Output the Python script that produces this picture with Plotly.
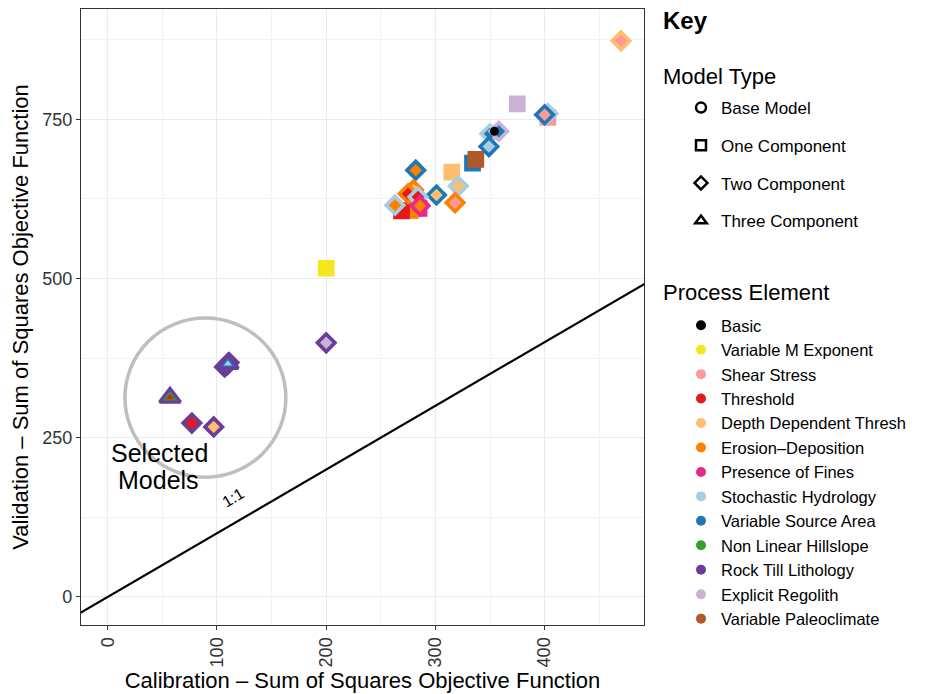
import plotly.graph_objects as go

# ---------------- data ----------------
elements = ["Basic", "Variable M Exponent", "Shear Stress", "Threshold",
            "Depth Dependent Thresh", "Erosion\u2013Deposition", "Presence of Fines",
            "Stochastic Hydrology", "Variable Source Area", "Non Linear Hillslope",
            "Rock Till Lithology", "Explicit Regolith", "Variable Paleoclimate"]
element_colors = ["#000000", "#F5E71B", "#FB9A99", "#E31A1C", "#FDBF6F", "#FF7F00",
                  "#E7298A", "#A6CEE3", "#1F78B4", "#33A02C", "#6A3D9A", "#CAB2D6", "#B15928"]
model_types = ["Base Model", "One Component", "Two Component", "Three Component"]

calib = [200, 375, 334, 337, 315, 403, 285, 277, 269,
         470, 403, 400, 350, 358, 349, 321, 282, 301, 318, 280, 275, 284, 263, 286,
         200, 77, 97, 107, 111, 109,
         57, 110,
         354]
valid = [516, 774, 681, 687, 667, 753, 610, 607, 606,
         873, 759, 757, 727, 731, 707, 645, 670, 631, 619, 639, 633, 628, 615, 614,
         399, 273, 267, 361, 368, 364,
         313, 366,
         731]
model = ["One Component"] * 9 + ["Two Component"] * 21 + ["Three Component"] * 2 + ["Base Model"]
outline = ["Variable M Exponent", "Explicit Regolith", "Variable Source Area", "Variable Paleoclimate",
           "Depth Dependent Thresh", "Shear Stress", "Presence of Fines", "Erosion\u2013Deposition", "Threshold",
           "Depth Dependent Thresh", "Stochastic Hydrology", "Variable Source Area", "Stochastic Hydrology",
           "Explicit Regolith", "Variable Source Area", "Stochastic Hydrology", "Variable Source Area",
           "Variable Source Area", "Erosion\u2013Deposition", "Erosion\u2013Deposition", "Erosion\u2013Deposition",
           "Stochastic Hydrology", "Stochastic Hydrology", "Presence of Fines",
           "Rock Till Lithology", "Rock Till Lithology", "Rock Till Lithology", "Rock Till Lithology",
           "Rock Till Lithology", "Rock Till Lithology",
           "Rock Till Lithology", "Rock Till Lithology",
           "Basic"]
fill = ["Variable M Exponent", "Explicit Regolith", "Variable Source Area", "Variable Paleoclimate",
        "Depth Dependent Thresh", "Shear Stress", "Presence of Fines", "Erosion\u2013Deposition", "Threshold",
        "Shear Stress", "Shear Stress", "Shear Stress", "Variable Source Area",
        "Variable Source Area", "Stochastic Hydrology", "Depth Dependent Thresh", "Erosion\u2013Deposition",
        "Depth Dependent Thresh", "Shear Stress", "Depth Dependent Thresh", "Threshold",
        "Threshold", "Erosion\u2013Deposition", "Erosion\u2013Deposition",
        "Explicit Regolith", "Threshold", "Depth Dependent Thresh", "Variable Source Area",
        "Stochastic Hydrology", "Variable Source Area",
        "Non Linear Hillslope", "Variable Source Area",
        "Basic"]
inner = [None] * 30 + ["Threshold", "Stochastic Hydrology"] + [None]

one_to_one = [-100, 600]
x_ticks = [0, 100, 200, 300, 400]
y_ticks = [0, 250, 500, 750]
x_range = [-24.5, 491]
y_range = [-44, 923]
circle_center = (89.4, 313)
circle_radius = (73.7, 125)

# ---------------- figure ----------------
col = dict(zip(elements, element_colors))
FONT = "Liberation Sans, Arial, Helvetica, sans-serif"
fig = go.Figure()

fig.add_trace(go.Scatter(x=one_to_one, y=one_to_one, mode="lines",
                         line=dict(color="black", width=2.2), showlegend=False, hoverinfo="skip"))

styles = {
    "One Component": dict(symbol="square", size=15.5, lw=1.2),
    "Two Component": dict(symbol="diamond", size=13.5, lw=3.6),
    "Three Component": dict(symbol="triangle-up", size=18, lw=3.4),
    "Base Model": dict(symbol="circle", size=9, lw=0),
}
inner_size = {"Three Component": 7}
for mt in ["One Component", "Two Component", "Three Component", "Base Model"]:
    idx = [i for i, m in enumerate(model) if m == mt]
    st = styles[mt]
    fig.add_trace(go.Scatter(
        x=[calib[i] for i in idx], y=[valid[i] for i in idx], mode="markers",
        marker=dict(symbol=st["symbol"], size=st["size"],
                    color=[col[fill[i]] for i in idx],
                    line=dict(color=[col[outline[i]] for i in idx], width=st["lw"])),
        showlegend=False, cliponaxis=False))
    idx_in = [i for i in idx if inner[i] is not None]
    if idx_in:
        fig.add_trace(go.Scatter(
            x=[calib[i] for i in idx_in], y=[valid[i] for i in idx_in], mode="markers",
            marker=dict(symbol=st["symbol"], size=inner_size.get(mt, 5),
                        color=[col[inner[i]] for i in idx_in], line=dict(width=0)),
            showlegend=False))

# legend entries: model type
legend_symbols = ["circle-open", "square-open", "diamond-open", "triangle-up-open"]
for mt, sym in zip(model_types, legend_symbols):
    fig.add_trace(go.Scatter(x=[None], y=[None], mode="markers", name=mt,
                             marker=dict(symbol=sym, size=10, color="black",
                                         line=dict(color="black", width=2.5)),
                             legend="legend", legendgroup="mt_" + mt, showlegend=True))
# legend entries: process elements
for el in elements:
    fig.add_trace(go.Scatter(x=[None], y=[None], mode="markers", name=el,
                             marker=dict(symbol="circle", size=10, color=col[el]),
                             legend="legend2", legendgroup="pe", showlegend=True))

# page offset (body margin) of 8 px; positions below given in screenshot pixels
OFF = 8
W, H = 925 - OFF, 694 - OFF
L, R, T, B = 81 - OFF, W - (644 - OFF), 1, H - (625 - OFF)
pw, ph = W - L - R, H - T - B


def px_x(p):
    return (p - OFF - L) / pw


def px_y(p):
    return 1 - (p - OFF - T) / ph


fig.add_shape(type="circle", xref="x", yref="y",
              x0=circle_center[0] - circle_radius[0], x1=circle_center[0] + circle_radius[0],
              y0=circle_center[1] - circle_radius[1], y1=circle_center[1] + circle_radius[1],
              line=dict(color="#BEBEBE", width=3.5), layer="above")

fig.add_annotation(x=47, y=226, xref="x", yref="y", text="Selected", showarrow=False,
                   font=dict(family=FONT, size=25, color="black"))
fig.add_annotation(x=46, y=183, xref="x", yref="y", text="Models", showarrow=False,
                   font=dict(family=FONT, size=25, color="black"))
fig.add_annotation(x=115, y=156, xref="x", yref="y", text="1:1", showarrow=False, textangle=-31,
                   font=dict(family=FONT, size=16, color="black"))

fig.add_annotation(x=px_x(661), y=px_y(21), xref="paper", yref="paper", text="<b>Key</b>",
                   showarrow=False, xanchor="left", yanchor="middle",
                   font=dict(family=FONT, size=24, color="black"))
fig.add_annotation(x=px_x(661), y=px_y(77), xref="paper", yref="paper", text="Model Type",
                   showarrow=False, xanchor="left", yanchor="middle",
                   font=dict(family=FONT, size=22, color="black"))
fig.add_annotation(x=px_x(661), y=px_y(292), xref="paper", yref="paper", text="Process Element",
                   showarrow=False, xanchor="left", yanchor="middle",
                   font=dict(family=FONT, size=22, color="black"))

axis_common = dict(showline=True, mirror=True, linecolor="#333333", linewidth=1.3,
                   showgrid=True, gridcolor="#EBEBEB", gridwidth=1.1, zeroline=False,
                   ticks="outside", ticklen=4, tickcolor="#333333",
                   tickfont=dict(family=FONT, size=18, color="#333333"))
fig.update_xaxes(range=x_range, tickvals=x_ticks, tickangle=-90,
                 minor=dict(dtick=50, tick0=0, showgrid=True, gridcolor="#F2F2F2", gridwidth=0.6),
                 title=dict(text="Calibration \u2013 Sum of Squares Objective Function",
                            font=dict(family=FONT, size=22, color="black"), standoff=6),
                 **axis_common)
fig.update_yaxes(range=y_range, tickvals=y_ticks,
                 minor=dict(dtick=125, tick0=0, showgrid=True, gridcolor="#F2F2F2", gridwidth=0.6),
                 title=dict(text="Validation \u2013 Sum of Squares Objective Function",
                            font=dict(family=FONT, size=22, color="black"), standoff=8),
                 **axis_common)

leg_common = dict(xref="paper", yref="paper", xanchor="left", yanchor="top",
                  bgcolor="rgba(0,0,0,0)", borderwidth=0, itemclick=False, itemdoubleclick=False)
fig.update_layout(
    width=W, height=H, margin=dict(l=L, r=R, t=T, b=B, autoexpand=False),
    plot_bgcolor="white", paper_bgcolor="white",
    font=dict(family=FONT),
    showlegend=True,
    legend=dict(x=px_x(681), y=px_y(90), tracegroupgap=12.6,
                font=dict(family=FONT, size=17, color="black"), **leg_common),
    legend2=dict(x=px_x(681), y=px_y(308), tracegroupgap=0,
                 font=dict(family=FONT, size=16.5, color="black"), **leg_common),
)

fig.write_html("out.html")
